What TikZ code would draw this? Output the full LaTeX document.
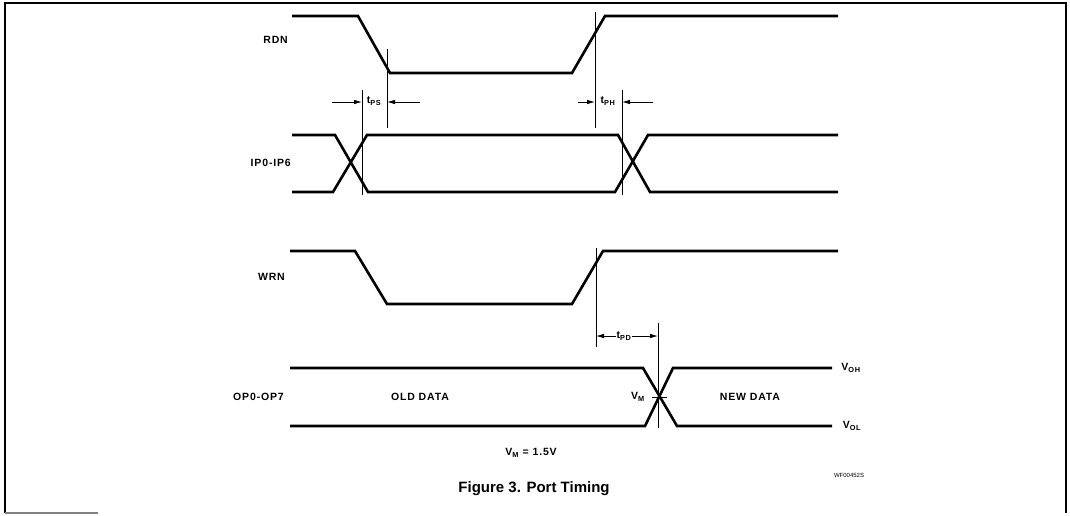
\documentclass[tikz,border=0pt]{standalone}
\usepackage{fontspec}
\setmainfont{Liberation Sans}
\newfontfamily\lblfont[LetterSpace=8]{Liberation Sans}
\usetikzlibrary{arrows.meta}

\begin{document}
\begin{tikzpicture}[x=1pt,y=-1pt,
		sig/.style={line width=2.6pt},
		guide/.style={line width=0.8pt},
		tarrow/.style={line width=0.8pt,-{Latex[length=8pt,width=4.5pt]}},
		lbl/.style={font=\lblfont\bfseries\fontsize{10.5}{12}\selectfont,inner sep=0pt}]
	\useasboundingbox (0,0) rectangle (1070,515);
	% frame
	\draw[line width=1.8pt] (5,513) -- (5,3) -- (1066,3) -- (1066,513);
	\draw[line width=1.2pt,gray] (5,513) -- (98,513);

	% signal names
	\node[lbl,anchor=east] (RDN) at (288,40) {RDN};
	\node[lbl,anchor=east] (IP) at (291,163) {IP0-IP6};
	\node[lbl,anchor=east] (WRN) at (285,277) {WRN};
	\node[lbl,anchor=east] (OP) at (284,397) {OP0-OP7};

	% waveforms
	\draw[sig] (292,16) -- (358,16) -- (390,73) -- (572,73) -- (605,16) -- (838,16);
	\draw[sig] (292,135) -- (335,135) -- (368,192) -- (615,192) -- (648,135) -- (838,135);
	\draw[sig] (292,192) -- (333,192) -- (367,135) -- (618,135) -- (650,192) -- (838,192);
	\draw[sig] (290,251) -- (355,251) -- (387,304) -- (572,304) -- (603,251) -- (838,251);
	\draw[sig] (290,368) -- (643,368) -- (677,426) -- (832,426);
	\draw[sig] (290,426) -- (645,426) -- (673,368) -- (832,368);

	% guide lines
	\draw[guide] (362,90) -- (362,195);
	\draw[guide] (387,49) -- (387,128);
	\draw[guide] (595,12) -- (595,128);
	\draw[guide] (622,90) -- (622,195);
	\draw[guide] (596,248) -- (596,347);
	\draw[guide] (658,323) -- (658,428);
	\draw[guide] (652,397) -- (667,397);

	% timing arrows
	\coordinate (psL) at (362,102);
	\coordinate (psR) at (387,102);
	\coordinate (phL) at (595,102);
	\coordinate (phR) at (622,102);
	\coordinate (pdL) at (596,336);
	\coordinate (pdR) at (658,336);
	\draw[tarrow] (332,102) -- (psL);
	\draw[tarrow] (420,102) -- (psR);
	\draw[tarrow] (578,102) -- (phL);
	\draw[tarrow] (653,102) -- (phR);
	\node[lbl] (tPS) at (374,101) {t\textsubscript{PS}};
	\node[lbl] (tPH) at (608,101) {t\textsubscript{PH}};
	\node[lbl] (tPD) at (624,336) {t\textsubscript{PD}};
	\draw[tarrow] (tPD.west) -- (pdL);
	\draw[tarrow] (tPD.east) -- (pdR);

	% level and data labels
	\node[lbl] (VOH) at (851,368) {V\textsubscript{OH}};
	\node[lbl] (VOL) at (852,426) {V\textsubscript{OL}};
	\node[lbl] (VM) at (638,397) {V\textsubscript{M}};
	\node[lbl] (old) at (420,397) {OLD DATA};
	\node[lbl] (new) at (750,397) {NEW DATA};
	\node[lbl] (vmeq) at (531,453) {V\textsubscript{M} = 1.5V};
	\node[font=\fontsize{6}{7}\selectfont,inner sep=0pt] (wf) at (849,475) {WF00452S};
	\node[font=\bfseries\fontsize{15}{17}\selectfont,inner sep=0pt] (cap) at (534,489) {Figure 3. Port Timing};
\end{tikzpicture}
\end{document}
